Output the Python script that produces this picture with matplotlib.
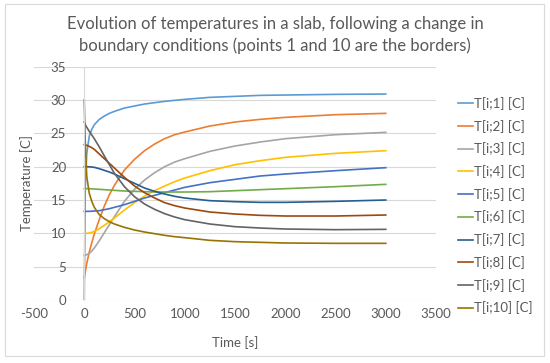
import matplotlib
matplotlib.use("Agg")
import matplotlib.pyplot as plt
from matplotlib.patches import Rectangle

plt.rcParams['font.family'] = ['Lato', 'DejaVu Sans']
plt.rcParams['axes.unicode_minus'] = False

time_s = [0, 10, 25, 50, 75, 100, 150, 200, 250, 300, 400, 500, 600, 700, 800, 900, 1000,
          1250, 1500, 1750, 2000, 2500, 3000]

T1 = [0, 17, 22, 24.6, 25.6, 26.3, 27.1, 27.6, 28.0, 28.3, 28.8, 29.1, 29.4, 29.6, 29.8, 29.95, 30.1,
      30.4, 30.55, 30.7, 30.75, 30.85, 30.9]
T2 = [3.3, 4.2, 5.5, 7.2, 8.6, 9.9, 12.1, 14.1, 15.8, 17.2, 19.5, 21.1, 22.4, 23.4, 24.2, 24.8, 25.2,
      26.1, 26.7, 27.1, 27.4, 27.8, 28.0]
T3 = [6.7, 6.72, 6.8, 7.0, 7.35, 7.8, 8.9, 10.1, 11.3, 12.5, 14.8, 16.6, 18.0, 19.1, 20.0, 20.7, 21.2,
      22.3, 23.1, 23.7, 24.2, 24.8, 25.15]
T4 = [10, 10, 10, 10.05, 10.15, 10.3, 10.7, 11.2, 11.75, 12.3, 13.5, 14.6, 15.6, 16.4, 17.1, 17.75, 18.3,
      19.4, 20.3, 20.9, 21.4, 22.0, 22.4]
T5 = [13.3, 13.3, 13.3, 13.3, 13.32, 13.35, 13.4, 13.55, 13.7, 13.9, 14.3, 14.8, 15.3, 15.7, 16.1, 16.5, 16.9,
      17.6, 18.1, 18.6, 18.9, 19.4, 19.85]
T6 = [16.7, 16.7, 16.7, 16.7, 16.68, 16.65, 16.6, 16.55, 16.5, 16.45, 16.35, 16.3, 16.25, 16.22, 16.2, 16.2, 16.2,
      16.25, 16.4, 16.55, 16.7, 17.0, 17.35]
T7 = [20, 20, 20, 19.98, 19.95, 19.9, 19.7, 19.45, 19.2, 18.9, 18.2, 17.5, 16.8, 16.3, 15.9, 15.55, 15.3,
      14.9, 14.75, 14.65, 14.65, 14.8, 15.0]
T8 = [23.3, 23.3, 23.2, 23.05, 22.85, 22.6, 21.9, 21.2, 20.5, 19.8, 18.4, 17.1, 16.1, 15.3, 14.6, 14.15, 13.8,
      13.2, 12.9, 12.7, 12.6, 12.6, 12.75]
T9 = [26.7, 26.3, 25.9, 25.3, 24.75, 24.2, 22.95, 21.6, 20.3, 19.0, 17.0, 15.5, 14.4, 13.6, 12.95, 12.45, 12.05,
      11.4, 11.0, 10.8, 10.65, 10.55, 10.6]
T10 = [30, 23.5, 18.5, 16, 14.8, 13.9, 12.8, 12.2, 11.75, 11.4, 10.9, 10.5, 10.2, 9.95, 9.7, 9.5, 9.35,
       8.95, 8.75, 8.65, 8.55, 8.5, 8.5]

series = [T1, T2, T3, T4, T5, T6, T7, T8, T9, T10]
labels = ['T[i;1] [C]', 'T[i;2] [C]', 'T[i;3] [C]', 'T[i;4] [C]', 'T[i;5] [C]',
          'T[i;6] [C]', 'T[i;7] [C]', 'T[i;8] [C]', 'T[i;9] [C]', 'T[i;10] [C]']
colors = ['#5B9BD5', '#ED7D31', '#A5A5A5', '#FFC000', '#4472C4',
          '#70AD47', '#255E91', '#9E480E', '#636363', '#997300']

x_ticks = [-500, 0, 500, 1000, 1500, 2000, 2500, 3000, 3500]
y_ticks = [0, 5, 10, 15, 20, 25, 30, 35]

txt = '#595959'
grid_c = '#D9D9D9'

fig = plt.figure(figsize=(5.5, 3.63), dpi=100)
fig.patches.append(Rectangle((5/550, 1-356/363), 539/550, 352/363, transform=fig.transFigure,
                             fill=False, edgecolor=grid_c, linewidth=0.8))

ax = fig.add_axes([34/550, 1-300/363, 402/550, 233.3/363])
for s, lab, c in zip(series, labels, colors):
    ax.plot(time_s, s, color=c, lw=1.2, label=lab)

ax.set_xlim(-500, 3500)
ax.set_ylim(0, 35)
ax.set_xticks(x_ticks)
ax.set_yticks(y_ticks)
ax.yaxis.grid(True, color=grid_c, lw=0.8)
ax.set_axisbelow(True)
for sp in ['top', 'right', 'bottom']:
    ax.spines[sp].set_visible(False)
ax.spines['left'].set_position(('data', 0))
ax.spines['left'].set_color(grid_c)
ax.spines['left'].set_linewidth(0.8)
ax.tick_params(axis='both', length=0, labelsize=9.5, colors=txt)
ax.tick_params(axis='y', pad=13)
ax.tick_params(axis='x', pad=6)

fig.text(27/550, 1-183/363, 'Temperature [C]', rotation=90, ha='center', va='center',
         fontsize=9.5, color=txt)
fig.text(235/550, 1-343/363, 'Time [s]', ha='center', va='center', fontsize=9.5, color=txt)
fig.text(275/550, 1-24/363, 'Evolution of temperatures in a slab, following a change in',
         ha='center', va='center', fontsize=12, color=txt)
fig.text(275/550, 1-46/363, 'boundary conditions (points 1 and 10 are the borders)',
         ha='center', va='center', fontsize=12, color=txt)

leg = ax.legend(loc='upper left', bbox_to_anchor=(458/550, 1-97/363), bbox_transform=fig.transFigure,
                frameon=False, fontsize=9.5, handlelength=1.1, handletextpad=0.15,
                labelspacing=0.74, borderaxespad=0, borderpad=0)
for t in leg.get_texts():
    t.set_color(txt)

fig.savefig('out.png', dpi=100)
